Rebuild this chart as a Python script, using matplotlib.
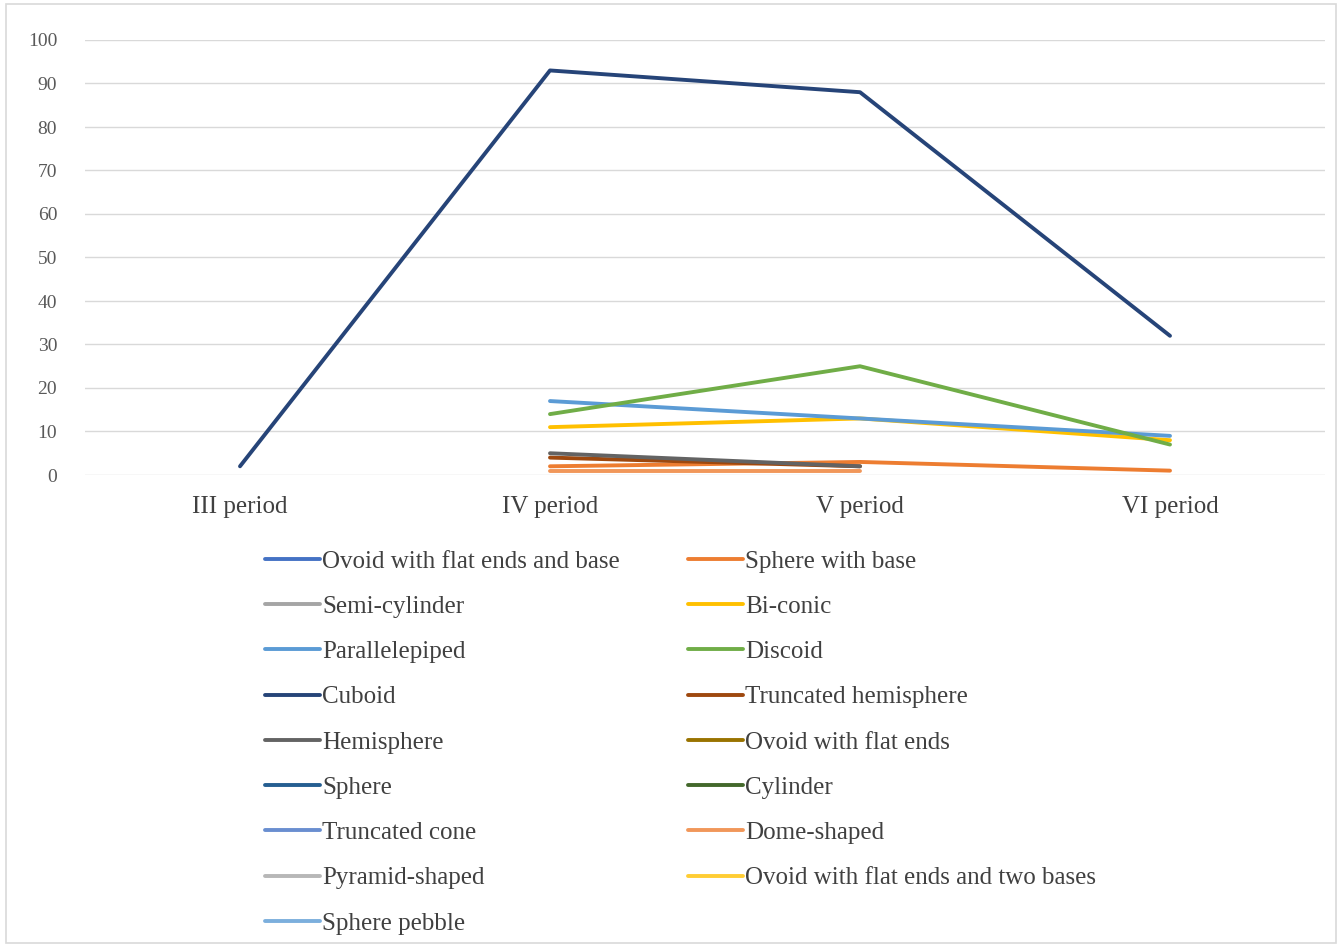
import numpy as np
import matplotlib
matplotlib.use("Agg")
import matplotlib.pyplot as plt
from matplotlib.patches import Rectangle

nan = np.nan
periods = ["III period", "IV period", "V period", "VI period"]

ovoid_flat_ends_base = [nan, nan, nan, nan]
sphere_with_base = [nan, 2, 3, 1]
semi_cylinder = [nan, nan, nan, nan]
bi_conic = [nan, 11, 13, 8]
parallelepiped = [nan, 17, 13, 9]
discoid = [nan, 14, 25, 7]
cuboid = [2, 93, 88, 32]
truncated_hemisphere = [nan, 4, 2, nan]
hemisphere = [nan, 5, 2, nan]
ovoid_flat_ends = [nan, nan, nan, nan]
sphere = [nan, nan, nan, nan]
cylinder = [nan, nan, nan, nan]
truncated_cone = [nan, nan, nan, nan]
dome_shaped = [nan, 1, 1, nan]
pyramid_shaped = [nan, nan, nan, nan]
ovoid_two_bases = [nan, nan, nan, nan]
sphere_pebble = [nan, nan, nan, nan]

series_names = ["Ovoid with flat ends and base", "Sphere with base", "Semi-cylinder",
                "Bi-conic", "Parallelepiped", "Discoid", "Cuboid", "Truncated hemisphere",
                "Hemisphere", "Ovoid with flat ends", "Sphere", "Cylinder",
                "Truncated cone", "Dome-shaped", "Pyramid-shaped",
                "Ovoid with flat ends and two bases", "Sphere pebble"]
series_values = [ovoid_flat_ends_base, sphere_with_base, semi_cylinder, bi_conic,
                 parallelepiped, discoid, cuboid, truncated_hemisphere, hemisphere,
                 ovoid_flat_ends, sphere, cylinder, truncated_cone, dome_shaped,
                 pyramid_shaped, ovoid_two_bases, sphere_pebble]
colors = ["#4472C4", "#ED7D31", "#A5A5A5", "#FFC000", "#5B9BD5", "#70AD47",
          "#264478", "#9E480E", "#636363", "#997300", "#255E91", "#43682B",
          "#698ED0", "#F1975A", "#B7B7B7", "#FFCD33", "#7CAFDD"]

plt.rcParams['font.family'] = ['Liberation Serif', 'DejaVu Serif']

W, H = 1342, 947
fig = plt.figure(figsize=(W / 100, H / 100), dpi=100)
fig.patches.append(Rectangle((6 / W, 4 / H), 1 - 12 / W, 1 - 8 / H, transform=fig.transFigure,
                             fill=False, edgecolor="#D9D9D9", linewidth=1.2))

ax = fig.add_axes([85 / W, (H - 475) / H, 1240 / W, 435 / H])
x = np.arange(len(periods))
handles = []
for name, vals, c in zip(series_names, series_values, colors):
    (h,) = ax.plot(x, vals, color=c, linewidth=2.8, label=name, solid_capstyle="round")
    handles.append(h)

ax.set_xlim(-0.5, 3.5)
ax.set_ylim(0, 100)
ax.set_yticks(range(0, 101, 10))
ax.set_xticks(x)
ax.set_xticklabels(periods, fontsize=18, color="#404040")
ax.tick_params(axis="y", labelsize=14, labelcolor="#595959", length=0, pad=20)
ax.tick_params(axis="x", length=0, pad=15)
ax.grid(axis="y", color="#D9D9D9", linewidth=1)
ax.set_axisbelow(True)
for s in ax.spines.values():
    s.set_visible(False)

leg_kw = dict(frameon=False, fontsize=18, handlelength=2.2, handletextpad=0.08,
              labelspacing=0.91, borderpad=0, borderaxespad=0, labelcolor="#404040")
leg1 = fig.legend(handles[0::2], series_names[0::2], loc="upper left",
                  bbox_to_anchor=(265 / W, (H - 550) / H), **leg_kw)
leg2 = fig.legend(handles[1::2], series_names[1::2], loc="upper left",
                  bbox_to_anchor=(688 / W, (H - 550) / H), **leg_kw)

fig.savefig("out.png", dpi=100)
